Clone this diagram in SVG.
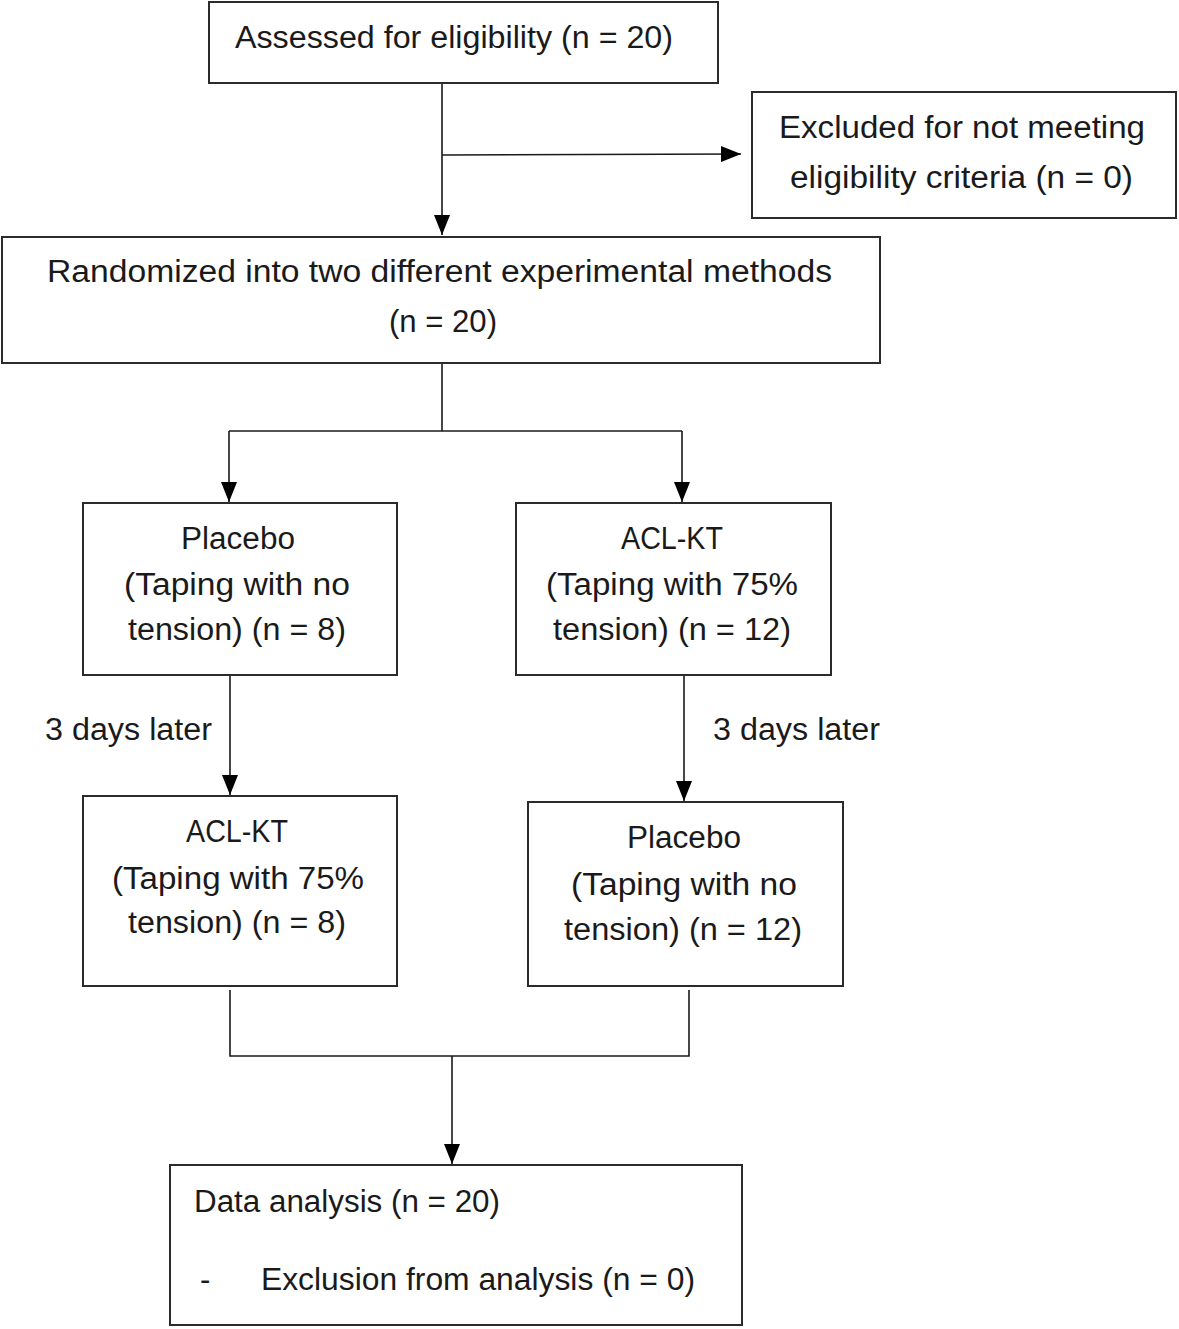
<svg xmlns="http://www.w3.org/2000/svg" width="1179" height="1329" viewBox="0 0 1179 1329">
<style>
.box{fill:#fff;stroke:#2b2b2b;stroke-width:2}
.t{font-family:"Liberation Sans",Arial,sans-serif;font-size:31px;fill:#1a1a1a}
.ln{fill:none;stroke:#1a1a1a;stroke-width:1.6}
</style>
<defs>
<marker id="ahb" viewBox="0 0 20 16" refX="20" refY="8" markerWidth="20" markerHeight="16" markerUnits="userSpaceOnUse" orient="auto">
<path d="M0,0 L20,8 L0,16 z" fill="#000"/>
</marker>
</defs>
<g id="connectors">
<line class="ln" x1="442" y1="83" x2="442" y2="235" marker-end="url(#ahb)"/>
<line class="ln" x1="442" y1="155" x2="741" y2="154" marker-end="url(#ahb)"/>
<polyline class="ln" points="442,363 442,431"/>
<polyline class="ln" points="229,431 682,431"/>
<line class="ln" x1="229" y1="431" x2="229" y2="502" marker-end="url(#ahb)"/>
<line class="ln" x1="682" y1="431" x2="682" y2="502" marker-end="url(#ahb)"/>
<line class="ln" x1="230" y1="675" x2="230" y2="795" marker-end="url(#ahb)"/>
<line class="ln" x1="684" y1="675" x2="684" y2="801" marker-end="url(#ahb)"/>
<polyline class="ln" points="230,990 230,1056 689,1056 689,990"/>
<line class="ln" x1="452" y1="1056" x2="452" y2="1164" marker-end="url(#ahb)"/>
<text class="t" x="45" y="740" textLength="167" lengthAdjust="spacingAndGlyphs">3 days later</text>
<text class="t" x="713" y="740" textLength="167" lengthAdjust="spacingAndGlyphs">3 days later</text>
</g>
<g id="assessed">
<rect class="box" x="209" y="2" width="509" height="81"/>
<text class="t" x="235" y="48" textLength="438" lengthAdjust="spacingAndGlyphs">Assessed for eligibility (n = 20)</text>
</g>
<g id="excluded">
<rect class="box" x="752" y="92" width="424" height="126"/>
<text class="t" x="779" y="138" textLength="366" lengthAdjust="spacingAndGlyphs">Excluded for not meeting</text>
<text class="t" x="790" y="188" textLength="343" lengthAdjust="spacingAndGlyphs">eligibility criteria (n = 0)</text>
</g>
<g id="randomized">
<rect class="box" x="2" y="237" width="878" height="126"/>
<text class="t" x="47" y="282" textLength="785" lengthAdjust="spacingAndGlyphs">Randomized into two different experimental methods</text>
<text class="t" x="389" y="332" textLength="108" lengthAdjust="spacingAndGlyphs">(n = 20)</text>
</g>
<g id="placebo1">
<rect class="box" x="83" y="503" width="314" height="172"/>
<text class="t" x="181" y="549" textLength="114" lengthAdjust="spacingAndGlyphs">Placebo</text>
<text class="t" x="124" y="595" textLength="226" lengthAdjust="spacingAndGlyphs">(Taping with no</text>
<text class="t" x="128" y="640" textLength="218" lengthAdjust="spacingAndGlyphs">tension) (n = 8)</text>
</g>
<g id="aclkt1">
<rect class="box" x="516" y="503" width="315" height="172"/>
<text class="t" x="621" y="549" textLength="102" lengthAdjust="spacingAndGlyphs">ACL-KT</text>
<text class="t" x="546" y="595" textLength="252" lengthAdjust="spacingAndGlyphs">(Taping with 75%</text>
<text class="t" x="553" y="640" textLength="238" lengthAdjust="spacingAndGlyphs">tension) (n = 12)</text>
</g>
<g id="aclkt2">
<rect class="box" x="83" y="796" width="314" height="190"/>
<text class="t" x="186" y="842" textLength="102" lengthAdjust="spacingAndGlyphs">ACL-KT</text>
<text class="t" x="112" y="889" textLength="252" lengthAdjust="spacingAndGlyphs">(Taping with 75%</text>
<text class="t" x="128" y="933" textLength="218" lengthAdjust="spacingAndGlyphs">tension) (n = 8)</text>
</g>
<g id="placebo2">
<rect class="box" x="528" y="802" width="315" height="184"/>
<text class="t" x="627" y="848" textLength="114" lengthAdjust="spacingAndGlyphs">Placebo</text>
<text class="t" x="571" y="895" textLength="226" lengthAdjust="spacingAndGlyphs">(Taping with no</text>
<text class="t" x="564" y="940" textLength="238" lengthAdjust="spacingAndGlyphs">tension) (n = 12)</text>
</g>
<g id="analysis">
<rect class="box" x="170" y="1165" width="572" height="160"/>
<text class="t" x="194" y="1212" textLength="306" lengthAdjust="spacingAndGlyphs">Data analysis (n = 20)</text>
<text class="t" x="200" y="1290">-</text>
<text class="t" x="261" y="1290" textLength="434" lengthAdjust="spacingAndGlyphs">Exclusion from analysis (n = 0)</text>
</g>
</svg>
